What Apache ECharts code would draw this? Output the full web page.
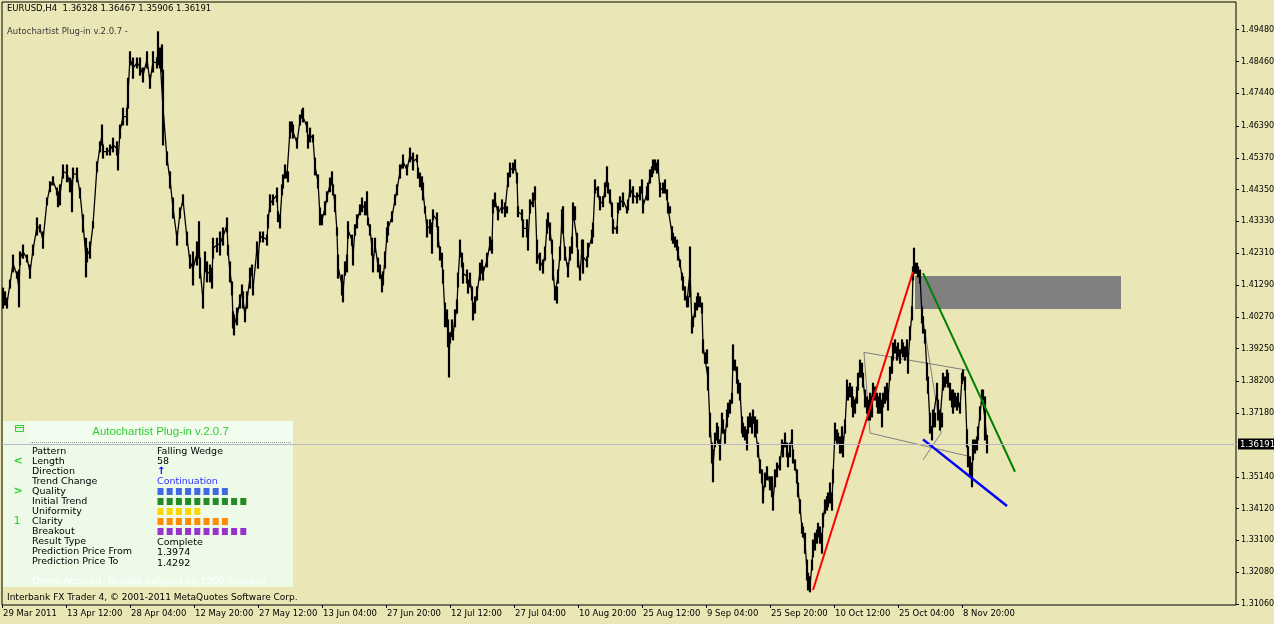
<!DOCTYPE html>
<html><head><meta charset="utf-8">
<script src="https://cdn.jsdelivr.net/npm/echarts@6/dist/echarts.min.js"></script>
<style>html,body{margin:0;padding:0;background:#eae6b5;}#c{width:1274px;height:624px;}</style>
</head><body><div id="c"></div>
<script>
// ---------- DATA ----------
const symbolName = 'EURUSD,H4';
const lastOHLC = [1.36328, 1.36467, 1.35906, 1.36191];

// bar index of each sampled bar (1 bar per pixel column)
const bars = [
3,5,7,10,13,17,19,20,23,27, 30,33,37,40,43,47,50,53,57,58, 60,63,67,70,72,73,77,80,83,86,
87,90,93,97,100,102,103,107,110,113, 117,118,120,123,127,128,130,133,137,140,
143,147,150,153,157,158,160,162,163,167, 170,173,177,180,183,187,190,193,197,199,
200,203,205,207,210,212,213,217,220,223, 227,228,230,232,233,234,237,240,242,243,
245,247,250,252,253,257,258,260,263,267, 268,270,273,277,278,280,282,283,285,287,
288,290,292,293,297,300,302,303,307,308, 310,313,315,318,320,322,325,327,330,332,
333,335,337,338,342,343,345,347,348,352, 353,355,357,360,362,365,367,368,370,372,
373,375,378,380,382,383,385,387,388,392, 395,397,400,403,407,410,413,417,418,420,
422,423,425,427,430,432,433,437,438,440, 442,443,445,447,448,449,450,452,453,455,
457,458,460,462,463,467,468,470,472,473, 475,477,480,482,483,487,490,492,493,495,
498,502,505,507,508,510,513,515,517,518, 522,523,527,528,530,533,535,537,540,543,
545,547,548,550,552,553,555,557,558,560, 562,563,565,568,570,572,573,575,577,578,
580,582,583,587,588,592,593,595,598,600, 603,605,607,608,610,612,613,617,618,620,
623,627,628,630,633,637,640,642,643,647, 648,650,652,653,655,657,658,660,663,665,
667,668,670,672,673,675,677,678,680,682, 683,685,687,688,690,692,693,695,697,698,
700,702,703,705,707,708,710,712,713,715, 717,718,720,722,723,725,727,728,730,732,
733,735,737,738,740,742,743,745,747,748, 750,752,753,755,757,758,760,762,763,765,
767,770,772,773,775,777,780,782,783,785, 787,788,790,792,793,795,797,798,800,802,
803,805,807,808,810,812,813,815,817,818, 820,822,823,825,827,828,830,832,833,835,
837,838,840,842,843,845,847,848,850,852, 853,855,857,858,860,862,863,865,867,868,
870,872,873,875,877,878,880,882,883,885, 887,888,890,892,893,895,897,898,900,902,
903,905,907,908,910,912,913,914,915,917, 918,920,922,923,925,927,928,930,932,933,
935,937,938,940,942,943,945,947,948,950, 952,953,955,957,958,960,962,963,965,967,
968,970,972,973,975,977,978,980,982,983,985,987
];
const highs = [
1.4119,1.4107,1.4087,1.4145,1.4225,1.4171,1.4177,1.4235,1.4257,1.4225,
1.4193,1.4257,1.4344,1.4322,1.4299,1.4408,1.4460,1.4476,1.4440,1.4428,
1.4450,1.4514,1.4514,1.4472,1.4466,1.4504,1.4504,1.4440,1.4354,1.4279,
1.4247,1.4267,1.4332,1.4524,1.4588,1.4642,1.4578,1.4568,1.4578,1.4600,
1.4588,1.4556,1.4642,1.4696,1.4696,1.4792,1.4877,1.4857,1.4857,1.4857,
1.4825,1.4877,1.4802,1.4877,1.4857,1.4941,1.4889,1.4899,1.4818,1.4556,
1.4492,1.4408,1.4299,1.4376,1.4418,1.4299,1.4225,1.4235,1.4267,1.4332,
1.4215,1.4107,1.4235,1.4203,1.4193,1.4183,1.4279,1.4279,1.4299,1.4312,
1.4344,1.4257,1.4203,1.4139,1.4043,1.4033,1.4055,1.4097,1.4129,1.4107,
1.4055,1.4107,1.4183,1.4193,1.4139,1.4267,1.4235,1.4299,1.4299,1.4289,
1.4354,1.4418,1.4418,1.4440,1.4364,1.4354,1.4450,1.4482,1.4514,1.4492,
1.4492,1.4652,1.4652,1.4642,1.4600,1.4674,1.4690,1.4696,1.4652,1.4610,
1.4632,1.4610,1.4536,1.4482,1.4376,1.4354,1.4396,1.4428,1.4472,1.4492,
1.4450,1.4418,1.4312,1.4225,1.4161,1.4139,1.4203,1.4225,1.4332,1.4289,
1.4257,1.4322,1.4354,1.4386,1.4408,1.4396,1.4428,1.4344,1.4322,1.4279,
1.4225,1.4279,1.4215,1.4193,1.4161,1.4171,1.4235,1.4312,1.4332,1.4364,
1.4418,1.4450,1.4514,1.4546,1.4514,1.4568,1.4552,1.4546,1.4504,1.4488,
1.4476,1.4456,1.4380,1.4338,1.4338,1.4328,1.4370,1.4360,1.4316,1.4251,
1.4231,1.4177,1.4071,1.4049,1.4017,1.3975,1.3975,1.4017,1.3985,1.4049,
1.4081,1.4167,1.4273,1.4231,1.4199,1.4177,1.4145,1.4167,1.4123,1.4071,
1.4091,1.4123,1.4199,1.4209,1.4187,1.4231,1.4283,1.4273,1.4402,1.4424,
1.4380,1.4402,1.4392,1.4380,1.4488,1.4520,1.4520,1.4530,1.4488,1.4380,
1.4370,1.4338,1.4338,1.4295,1.4402,1.4424,1.4444,1.4273,1.4231,1.4209,
1.4251,1.4338,1.4360,1.4328,1.4273,1.4209,1.4123,1.4123,1.4177,1.4251,
1.4370,1.4380,1.4251,1.4199,1.4251,1.4283,1.4392,1.4380,1.4295,1.4241,
1.4187,1.4273,1.4273,1.4219,1.4263,1.4305,1.4328,1.4466,1.4444,1.4412,
1.4412,1.4456,1.4508,1.4456,1.4434,1.4392,1.4338,1.4316,1.4392,1.4412,
1.4424,1.4380,1.4402,1.4466,1.4444,1.4424,1.4444,1.4466,1.4402,1.4444,
1.4456,1.4498,1.4508,1.4530,1.4530,1.4520,1.4530,1.4456,1.4456,1.4466,
1.4434,1.4392,1.4380,1.4316,1.4295,1.4283,1.4273,1.4251,1.4209,1.4167,
1.4155,1.4123,1.4091,1.4091,1.4251,1.4017,1.4027,1.4071,1.4091,1.4103,
1.4091,1.4071,1.3953,1.3911,1.3921,1.3866,1.3718,1.3622,1.3600,1.3654,
1.3686,1.3674,1.3632,1.3718,1.3696,1.3664,1.3728,1.3750,1.3760,1.3782,
1.3937,1.3888,1.3866,1.3824,1.3814,1.3706,1.3686,1.3674,1.3664,1.3706,
1.3718,1.3706,1.3728,1.3706,1.3696,1.3622,1.3568,1.3536,1.3482,1.3526,
1.3546,1.3514,1.3514,1.3462,1.3536,1.3558,1.3578,1.3632,1.3622,1.3654,
1.3622,1.3590,1.3622,1.3664,1.3600,1.3568,1.3536,1.3494,1.3440,1.3365,
1.3353,1.3333,1.3247,1.3205,1.3193,1.3247,1.3311,1.3333,1.3343,1.3365,
1.3353,1.3333,1.3397,1.3440,1.3450,1.3462,1.3494,1.3462,1.3536,1.3686,
1.3664,1.3654,1.3642,1.3674,1.3642,1.3696,1.3824,1.3802,1.3814,1.3802,
1.3770,1.3760,1.3802,1.3846,1.3888,1.3878,1.3846,1.3792,1.3770,1.3760,
1.3782,1.3760,1.3814,1.3802,1.3782,1.3770,1.3782,1.3760,1.3782,1.3802,
1.3814,1.3792,1.3866,1.3899,1.3943,1.3953,1.3931,1.3943,1.3921,1.3953,
1.3943,1.3931,1.3953,1.3911,1.3995,1.4059,1.4187,1.4247,1.4199,1.4199,
1.4187,1.4177,1.4059,1.4027,1.3985,1.3878,1.3834,1.3718,1.3674,1.3728,
1.3718,1.3814,1.3760,1.3728,1.3718,1.3846,1.3834,1.3856,1.3846,1.3814,
1.3792,1.3792,1.3782,1.3770,1.3782,1.3750,1.3846,1.3856,1.3834,1.3664,
1.3610,1.3578,1.3558,1.3632,1.3632,1.3642,1.3674,1.3738,1.3792,1.3792,1.3770,1.36467
];
const lows = [
1.4055,1.4065,1.4055,1.4119,1.4171,1.4151,1.4059,1.4193,1.4215,1.4203,
1.4151,1.4225,1.4289,1.4299,1.4247,1.4386,1.4428,1.4450,1.4418,1.4380,
1.4386,1.4472,1.4460,1.4428,1.4364,1.4472,1.4460,1.4408,1.4299,1.4155,
1.4203,1.4215,1.4312,1.4492,1.4556,1.4578,1.4536,1.4546,1.4546,1.4556,
1.4546,1.4498,1.4600,1.4642,1.4642,1.4696,1.4835,1.4792,1.4825,1.4802,
1.4780,1.4825,1.4760,1.4812,1.4825,1.4835,1.4825,1.4812,1.4578,1.4514,
1.4440,1.4344,1.4257,1.4344,1.4386,1.4257,1.4183,1.4129,1.4193,1.4215,
1.4151,1.4055,1.4171,1.4139,1.4139,1.4119,1.4215,1.4235,1.4225,1.4257,
1.4299,1.4225,1.4139,1.4097,1.3991,1.3969,1.4001,1.4055,1.4097,1.4055,
1.4011,1.4055,1.4119,1.4161,1.4097,1.4225,1.4183,1.4267,1.4267,1.4257,
1.4312,1.4364,1.4386,1.4396,1.4332,1.4312,1.4418,1.4440,1.4472,1.4472,
1.4460,1.4600,1.4620,1.4600,1.4568,1.4642,1.4664,1.4652,1.4620,1.4568,
1.4588,1.4588,1.4482,1.4440,1.4322,1.4322,1.4354,1.4396,1.4428,1.4450,
1.4418,1.4364,1.4289,1.4151,1.4097,1.4075,1.4161,1.4171,1.4279,1.4257,
1.4193,1.4289,1.4312,1.4354,1.4364,1.4354,1.4354,1.4322,1.4289,1.4225,
1.4171,1.4235,1.4171,1.4151,1.4107,1.4129,1.4183,1.4267,1.4289,1.4332,
1.4386,1.4418,1.4472,1.4504,1.4482,1.4524,1.4498,1.4524,1.4472,1.4444,
1.4434,1.4402,1.4360,1.4283,1.4295,1.4231,1.4338,1.4316,1.4251,1.4209,
1.4187,1.4135,1.3995,1.3995,1.3931,1.3834,1.3943,1.3963,1.3953,1.3995,
1.4039,1.4123,1.4219,1.4187,1.4135,1.4135,1.4103,1.4123,1.4081,1.4017,
1.4039,1.4081,1.4145,1.4167,1.4145,1.4187,1.4241,1.4231,1.4360,1.4380,
1.4338,1.4360,1.4348,1.4360,1.4444,1.4476,1.4488,1.4498,1.4456,1.4348,
1.4338,1.4283,1.4283,1.4241,1.4360,1.4380,1.4402,1.4199,1.4177,1.4167,
1.4209,1.4295,1.4316,1.4273,1.4231,1.4145,1.4081,1.4071,1.4135,1.4209,
1.4316,1.4295,1.4209,1.4155,1.4209,1.4231,1.4338,1.4338,1.4251,1.4187,
1.4145,1.4219,1.4167,1.4187,1.4219,1.4263,1.4283,1.4424,1.4412,1.4370,
1.4380,1.4412,1.4444,1.4424,1.4392,1.4348,1.4295,1.4295,1.4360,1.4370,
1.4380,1.4360,1.4370,1.4412,1.4392,1.4392,1.4402,1.4424,1.4360,1.4402,
1.4402,1.4456,1.4476,1.4488,1.4498,1.4488,1.4498,1.4412,1.4424,1.4424,
1.4402,1.4360,1.4360,1.4273,1.4263,1.4251,1.4241,1.4209,1.4187,1.4145,
1.4113,1.4081,1.4059,1.4059,1.4091,1.3975,1.3995,1.4027,1.4049,1.4059,
1.4059,1.4039,1.3911,1.3878,1.3878,1.3792,1.3642,1.3558,1.3498,1.3610,
1.3632,1.3622,1.3568,1.3664,1.3654,1.3622,1.3674,1.3706,1.3718,1.3750,
1.3856,1.3856,1.3814,1.3782,1.3760,1.3654,1.3642,1.3632,1.3600,1.3654,
1.3674,1.3654,1.3686,1.3642,1.3654,1.3578,1.3526,1.3494,1.3430,1.3482,
1.3504,1.3472,1.3450,1.3407,1.3482,1.3514,1.3536,1.3590,1.3578,1.3610,
1.3578,1.3546,1.3578,1.3622,1.3558,1.3536,1.3494,1.3450,1.3397,1.3333,
1.3321,1.3269,1.3183,1.3151,1.3145,1.3215,1.3257,1.3279,1.3301,1.3321,
1.3301,1.3269,1.3353,1.3397,1.3407,1.3418,1.3430,1.3407,1.3494,1.3632,
1.3622,1.3622,1.3590,1.3590,1.3578,1.3654,1.3770,1.3760,1.3770,1.3738,
1.3706,1.3718,1.3750,1.3792,1.3834,1.3834,1.3802,1.3738,1.3718,1.3696,
1.3696,1.3706,1.3770,1.3760,1.3738,1.3718,1.3718,1.3674,1.3738,1.3750,
1.3760,1.3728,1.3824,1.3846,1.3888,1.3911,1.3888,1.3899,1.3878,1.3911,
1.3899,1.3888,1.3899,1.3846,1.3953,1.4017,1.4145,1.4167,1.4167,1.4167,
1.4155,1.4135,1.4007,1.3975,1.3943,1.3824,1.3782,1.3654,1.3632,1.3674,
1.3674,1.3760,1.3696,1.3664,1.3674,1.3792,1.3802,1.3814,1.3802,1.3760,
1.3738,1.3718,1.3738,1.3728,1.3738,1.3718,1.3814,1.3824,1.3792,1.3610,
1.3546,1.3514,1.3482,1.3568,1.3590,1.3600,1.3632,1.3696,1.3750,1.3760,1.3632,1.35906
];

const timeTickBars = [2,66,130,194,258,322,386,450,514,578,642,706,770,834,898,962];
const timeTickLabels = ['29 Mar 2011','13 Apr 12:00','28 Apr 04:00','12 May 20:00','27 May 12:00','13 Jun 04:00',
  '27 Jun 20:00','12 Jul 12:00','27 Jul 04:00','10 Aug 20:00','25 Aug 12:00','9 Sep 04:00',
  '25 Sep 20:00','10 Oct 12:00','25 Oct 04:00','8 Nov 20:00'];
const priceTicks = [1.4948,1.4846,1.4744,1.4639,1.4537,1.4435,1.4333,1.4231,1.4129,1.4027,
  1.3925,1.3820,1.3718,1.3514,1.3412,1.3310,1.3208,1.3106];

// Autochartist pattern drawing ([bar, price] pairs)
const redLine   = [[813, 1.3151], [913, 1.4171]];
const greenLine = [[923, 1.4167], [1015, 1.3530]];
const blueLine  = [[923, 1.3634], [1007, 1.3420]];
const wedgeSegments = [
  [864, 1.3913, 967, 1.3856],
  [870, 1.3654, 967, 1.3581],
  [864, 1.3913, 870, 1.3654],
  [916, 1.4160, 941, 1.3654],
  [941, 1.3654, 923, 1.3568]
];
const targetBox = [915, 1.4158, 1121, 1.4052];

// Autochartist panel
const panelLabels = ['Pattern','Length','Direction','Trend Change','Quality','Initial Trend','Uniformity',
  'Clarity','Breakout','Result Type','Prediction Price From','Prediction Price To'];
const patternName = 'Falling Wedge';
const patternLength = 58;
const trendChange = 'Continuation';
const resultType = 'Complete';
const predictionFrom = 1.3974;
const predictionTo = 1.4292;
const scoreNames = ['Quality','Initial Trend','Uniformity','Clarity','Breakout'];
const scoreValues = [8, 10, 5, 8, 10];
const scoreColors = ['#4169e1','#228b22','#ffd700','#ff8c00','#9932cc'];

// ---------- CHART ----------
const yMax = 1.50366, yMin = 1.31028;
const xMin = 2, xMax = 1236;
const ohlcData = bars.map((b, i) => [b, highs[i], lows[i]]);
const midData = bars.map((b, i) => [b, i === bars.length - 1 ? lastOHLC[3] : (highs[i] + lows[i]) / 2]);

const F = '"DejaVu Sans", "Liberation Sans", sans-serif';
const graphic = [];
// panel
graphic.push({type:'rect', z:0, silent:true, shape:{x:3, y:421, width:290, height:166}, style:{fill:'#edfae7'}});
graphic.push({type:'rect', z:0, silent:true, shape:{x:28, y:421, width:265, height:22}, style:{fill:'#f3fdef'}});
graphic.push({type:'line', z:0, silent:true, shape:{x1:30, y1:442.5, x2:291, y2:442.5}, style:{stroke:'#9a9a9a', lineDash:[1,1], lineWidth:1}});
graphic.push({type:'text', z:1, silent:true, x:160.5, y:432, style:{text:'Autochartist Plug-in v.2.0.7', fill:'#33cc33', font:'11.5px "Liberation Sans", sans-serif', align:'center', verticalAlign:'middle'}});
graphic.push({type:'rect', z:1, silent:true, shape:{x:15.5, y:425.5, width:8, height:6}, style:{fill:'none', stroke:'#33cc33', lineWidth:1}});
graphic.push({type:'line', z:1, silent:true, shape:{x1:15.5, y1:427.5, x2:23.5, y2:427.5}, style:{stroke:'#33cc33', lineWidth:1}});
graphic.push({type:'text', z:1, silent:true, x:18, y:461, style:{text:'<', fill:'#33cc33', font:'bold 11px ' + F, align:'center', verticalAlign:'middle'}});
graphic.push({type:'text', z:1, silent:true, x:18, y:491, style:{text:'>', fill:'#33cc33', font:'bold 11px ' + F, align:'center', verticalAlign:'middle'}});
graphic.push({type:'text', z:1, silent:true, x:17, y:521, style:{text:'1', fill:'#33cc33', font:'11px ' + F, align:'center', verticalAlign:'middle'}});
panelLabels.forEach((t, i) => {
  graphic.push({type:'text', z:1, silent:true, x:32, y:451.5 + i * 10, style:{text:t, fill:'#000', font:'9.5px ' + F, verticalAlign:'middle'}});
});
const valueTexts = [
  [patternName, '#000', 0, 0], [String(patternLength), '#000', 1, 0], ['\u2191', '#0000ff', 2, 0],
  [trendChange, '#3333ff', 3, 0], [resultType, '#000', 9, 1], [predictionFrom.toFixed(4), '#000', 10, 1.5],
  [predictionTo.toFixed(4), '#000', 11, 2.5]
];
valueTexts.forEach(v => {
  graphic.push({type:'text', z:1, silent:true, x:157, y:451.5 + v[2] * 10 + v[3], style:{text:v[0], fill:v[1], font:(v[0] === '\u2191' ? 'bold 10px ' : '9.5px ') + F, verticalAlign:'middle'}});
});
scoreValues.forEach((n, r) => {
  const row = panelLabels.indexOf(scoreNames[r]);
  for (let k = 0; k < n; k++) {
    graphic.push({type:'rect', z:1, silent:true, shape:{x:157.5 + k * 9.2, y:451.5 + row * 10 - 3.5, width:6, height:7}, style:{fill:scoreColors[r]}});
  }
});
graphic.push({type:'text', z:1, silent:true, x:32, y:582, style:{text:'Demo Account. Results delayed by 1200 minutes', fill:'#ffffff', font:'9.5px ' + F, verticalAlign:'middle'}});
// header / footer text
graphic.push({type:'text', z:1, silent:true, x:7, y:9, style:{text:symbolName + '  ' + lastOHLC.map(v => v.toFixed(5)).join(' '), fill:'#000', font:'8.5px ' + F, verticalAlign:'middle'}});
graphic.push({type:'text', z:1, silent:true, x:7, y:32, style:{text:'Autochartist Plug-in v.2.0.7 -', fill:'#3a3a3a', font:'8.5px ' + F, verticalAlign:'middle'}});
graphic.push({type:'text', z:1, silent:true, x:7, y:598, style:{text:'Interbank FX Trader 4, \u00a9 2001-2011 MetaQuotes Software Corp.', fill:'#000', font:'9px ' + F, verticalAlign:'middle'}});

function segSeries(data, color, width, z) {
  return {
    type:'custom', z:z, silent:true, clip:true, data:data, encode:{x:[0,2], y:[1,3]},
    renderItem:function(params, api){
      const a = api.coord([api.value(0), api.value(1)]);
      const b = api.coord([api.value(2), api.value(3)]);
      return {type:'line', shape:{x1:a[0], y1:a[1], x2:b[0], y2:b[1]}, style:{stroke:color, lineWidth:width}};
    }
  };
}

const option = {
  animation:false,
  backgroundColor:'#eae6b5',
  grid:{left:2, top:2, right:38, bottom:19, show:true, borderColor:'#000', borderWidth:1, backgroundColor:'transparent',
    containLabel:false, outerBoundsMode:'none'},
  xAxis:{type:'value', min:xMin, max:xMax, axisLine:{show:false}, splitLine:{show:false},
    axisTick:{show:true, customValues:timeTickBars, length:3, lineStyle:{color:'#000'}},
    axisLabel:{customValues:timeTickBars, formatter:function(v){ const i = timeTickBars.indexOf(v); return i >= 0 ? timeTickLabels[i] : ''; },
      align:'left', color:'#000', fontSize:8.5, fontFamily:F, margin:4, padding:[0,0,0,1]}},
  yAxis:{type:'value', position:'right', min:yMin, max:yMax, axisLine:{show:false}, splitLine:{show:false},
    axisTick:{show:true, customValues:priceTicks, length:3, lineStyle:{color:'#000'}},
    axisLabel:{customValues:priceTicks, formatter:function(v){ return v.toFixed(5); }, color:'#000', fontSize:8, fontFamily:F, margin:5}},
  graphic:graphic,
  series:[
    {type:'custom', z:1, silent:true, clip:true, data:[targetBox], encode:{x:[0,2], y:[1,3]},
      renderItem:function(params, api){
        const a = api.coord([api.value(0), api.value(1)]);
        const b = api.coord([api.value(2), api.value(3)]);
        return {type:'rect', shape:{x:a[0], y:a[1], width:b[0]-a[0], height:b[1]-a[1]}, style:{fill:'#808080'}};
      }},
    // current price line + price label
    {type:'custom', z:4, silent:true, clip:false, data:[[xMin, lastOHLC[3], xMax]], encode:{x:[0,2], y:1},
      renderItem:function(params, api){
        const a = api.coord([api.value(0), api.value(1)]);
        const b = api.coord([api.value(2), api.value(1)]);
        const y = Math.round(a[1]) + 0.5;
        return {type:'group', children:[
          {type:'line', shape:{x1:a[0], y1:y, x2:b[0], y2:y}, style:{stroke:'#b8b8c8', lineWidth:1}},
          {type:'rect', shape:{x:b[0] + 2, y:y - 6, width:40, height:11}, style:{fill:'#000'}},
          {type:'text', x:b[0] + 4, y:y, style:{text:lastOHLC[3].toFixed(5), fill:'#fff', font:'8.5px ' + F, verticalAlign:'middle'}}
        ]};
      }},
    segSeries(wedgeSegments, '#808080', 1, 1),
    {type:'custom', z:2, silent:true, clip:true, data:ohlcData, encode:{x:0, y:[1,2]},
      renderItem:function(params, api){
        const a = api.coord([api.value(0), api.value(1)]);
        const b = api.coord([api.value(0), api.value(2)]);
        return {type:'line', shape:{x1:a[0], y1:a[1]-0.5, x2:b[0], y2:b[1]+0.5}, style:{stroke:'#000', lineWidth:2.2}};
      }},
    {type:'line', z:2, silent:true, data:midData, symbol:'none', lineStyle:{color:'#000', width:1.3}},
    segSeries([[redLine[0][0], redLine[0][1], redLine[1][0], redLine[1][1]]], '#ff0000', 2, 3),
    segSeries([[greenLine[0][0], greenLine[0][1], greenLine[1][0], greenLine[1][1]]], '#008000', 2, 3),
    segSeries([[blueLine[0][0], blueLine[0][1], blueLine[1][0], blueLine[1][1]]], '#0000ff', 2.5, 3)
  ]
};
const chart = echarts.init(document.getElementById('c'), null, {renderer:'canvas', width:1274, height:624});
chart.setOption(option);
</script>
</body></html>
